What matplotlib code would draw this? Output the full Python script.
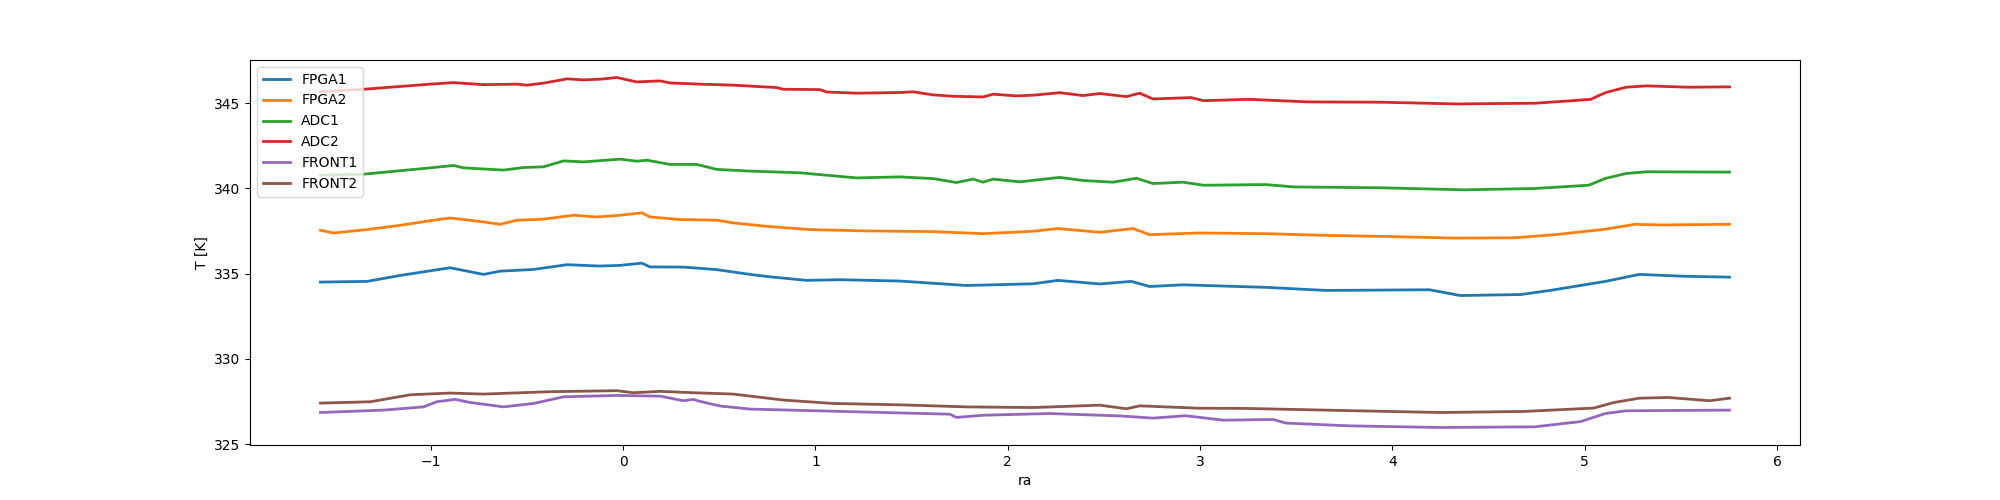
import matplotlib
matplotlib.use("Agg")
import matplotlib.pyplot as plt

# FPGA1
ra_fpga1 = [-1.574, -1.332, -1.159, -0.9, -0.726, -0.64, -0.466, -0.292, -0.119, -0.016, 0.097, 0.14, 0.313, 0.487, 0.66,
            0.746, 0.953, 1.127, 1.439, 1.785, 2.131, 2.261, 2.478, 2.642, 2.738, 2.911, 3.343, 3.654, 4.193, 4.353,
            4.668, 4.82, 5.107, 5.284, 5.521, 5.753]
t_fpga1 = [334.51, 334.55, 334.9, 335.35, 334.96, 335.15, 335.25, 335.53, 335.45, 335.49, 335.62, 335.4, 335.39, 335.24, 334.96,
           334.84, 334.61, 334.65, 334.57, 334.31, 334.41, 334.61, 334.4, 334.55, 334.25, 334.35, 334.2, 334.02, 334.06, 333.72,
           333.78, 334.02, 334.55, 334.96, 334.85, 334.8]

# FPGA2
ra_fpga2 = [-1.574, -1.505, -1.332, -1.159, -0.986, -0.9, -0.726, -0.64, -0.552, -0.414, -0.258, -0.137, -0.016, 0.097, 0.14,
            0.296, 0.487, 0.573, 0.746, 0.971, 1.266, 1.612, 1.872, 2.131, 2.261, 2.478, 2.651, 2.738, 2.997, 3.343,
            3.654, 3.944, 4.332, 4.637, 4.845, 5.107, 5.262, 5.408, 5.753]
t_fpga2 = [337.55, 337.39, 337.59, 337.84, 338.14, 338.27, 338.04, 337.9, 338.14, 338.2, 338.43, 338.33, 338.43, 338.57, 338.33,
           338.18, 338.14, 337.98, 337.78, 337.59, 337.51, 337.47, 337.35, 337.49, 337.65, 337.43, 337.65, 337.29, 337.39, 337.35,
           337.25, 337.19, 337.09, 337.11, 337.29, 337.61, 337.9, 337.86, 337.9]

# ADC1
ra_adc1 = [-1.574, -1.349, -1.003, -0.882, -0.83, -0.622, -0.518, -0.414, -0.31, -0.206, -0.016, 0.071, 0.123, 0.244, 0.383,
           0.487, 0.66, 0.919, 1.214, 1.439, 1.612, 1.733, 1.82, 1.872, 1.924, 2.062, 2.27, 2.391, 2.547, 2.669,
           2.755, 2.911, 3.018, 3.34, 3.491, 3.944, 4.375, 4.741, 5.02, 5.107, 5.215, 5.322, 5.753]
t_adc1 = [340.78, 340.84, 341.21, 341.35, 341.21, 341.08, 341.23, 341.27, 341.62, 341.56, 341.72, 341.6, 341.66, 341.41, 341.41,
          341.12, 341.02, 340.92, 340.62, 340.68, 340.58, 340.35, 340.55, 340.37, 340.55, 340.39, 340.65, 340.47, 340.37, 340.6,
          340.29, 340.37, 340.19, 340.23, 340.09, 340.04, 339.92, 340.0, 340.19, 340.59, 340.88, 340.98, 340.96]

# ADC2
ra_adc2 = [-1.574, -1.349, -1.003, -0.882, -0.726, -0.552, -0.5, -0.414, -0.292, -0.206, -0.119, -0.033, 0.071, 0.192, 0.244,
           0.4, 0.573, 0.798, 0.833, 1.023, 1.058, 1.214, 1.439, 1.508, 1.612, 1.716, 1.872, 1.924, 2.045, 2.131,
           2.27, 2.391, 2.478, 2.617, 2.686, 2.755, 2.953, 3.018, 3.255, 3.556, 3.944, 4.332, 4.741, 4.935, 5.031,
           5.107, 5.215, 5.322, 5.538, 5.753]
t_adc2 = [345.68, 345.82, 346.12, 346.21, 346.09, 346.12, 346.06, 346.18, 346.43, 346.37, 346.41, 346.51, 346.25, 346.31, 346.19,
          346.12, 346.06, 345.92, 345.82, 345.8, 345.66, 345.59, 345.63, 345.67, 345.49, 345.41, 345.37, 345.53, 345.43, 345.47,
          345.62, 345.45, 345.57, 345.39, 345.59, 345.25, 345.33, 345.15, 345.23, 345.08, 345.06, 344.96, 345.0, 345.15, 345.23,
          345.62, 345.94, 346.02, 345.94, 345.96]

# FRONT1
ra_front1 = [-1.574, -1.245, -1.038, -0.969, -0.874, -0.796, -0.622, -0.466, -0.31, -0.033, 0.192, 0.313, 0.365, 0.4, 0.504,
             0.66, 1.006, 1.699, 1.733, 1.872, 2.218, 2.582, 2.755, 2.925, 3.122, 3.381, 3.446, 3.769, 4.247, 4.741,
             4.98, 5.107, 5.215, 5.753]
t_front1 = [326.86, 327.0, 327.19, 327.49, 327.63, 327.45, 327.19, 327.39, 327.78, 327.86, 327.82, 327.55, 327.63, 327.51, 327.24,
            327.06, 326.96, 326.76, 326.57, 326.7, 326.8, 326.66, 326.53, 326.67, 326.41, 326.45, 326.24, 326.08, 325.98, 326.02,
            326.33, 326.8, 326.96, 327.0]

# FRONT2
ra_front2 = [-1.574, -1.314, -1.107, -0.9, -0.726, -0.38, -0.033, 0.053, 0.192, 0.365, 0.573, 0.833, 1.092, 1.439, 1.785,
             2.131, 2.478, 2.617, 2.686, 2.997, 3.234, 3.816, 4.247, 4.68, 5.046, 5.154, 5.284, 5.435, 5.65, 5.753]
t_front2 = [327.41, 327.49, 327.9, 328.0, 327.94, 328.08, 328.14, 328.02, 328.1, 328.02, 327.94, 327.59, 327.39, 327.31, 327.19,
            327.15, 327.29, 327.08, 327.25, 327.11, 327.1, 326.96, 326.86, 326.92, 327.12, 327.45, 327.7, 327.74, 327.55, 327.7]

series = [
    ("FPGA1", ra_fpga1, t_fpga1),
    ("FPGA2", ra_fpga2, t_fpga2),
    ("ADC1", ra_adc1, t_adc1),
    ("ADC2", ra_adc2, t_adc2),
    ("FRONT1", ra_front1, t_front1),
    ("FRONT2", ra_front2, t_front2),
]

fig, ax = plt.subplots(figsize=(20, 5), dpi=100)
for name, xs, ys in series:
    ax.plot(xs, ys, label=name, linewidth=2.0)
ax.set_xlabel("ra")
ax.set_ylabel("T [K]")
ax.legend(loc="upper left")
fig.savefig("out.png", dpi=100)
